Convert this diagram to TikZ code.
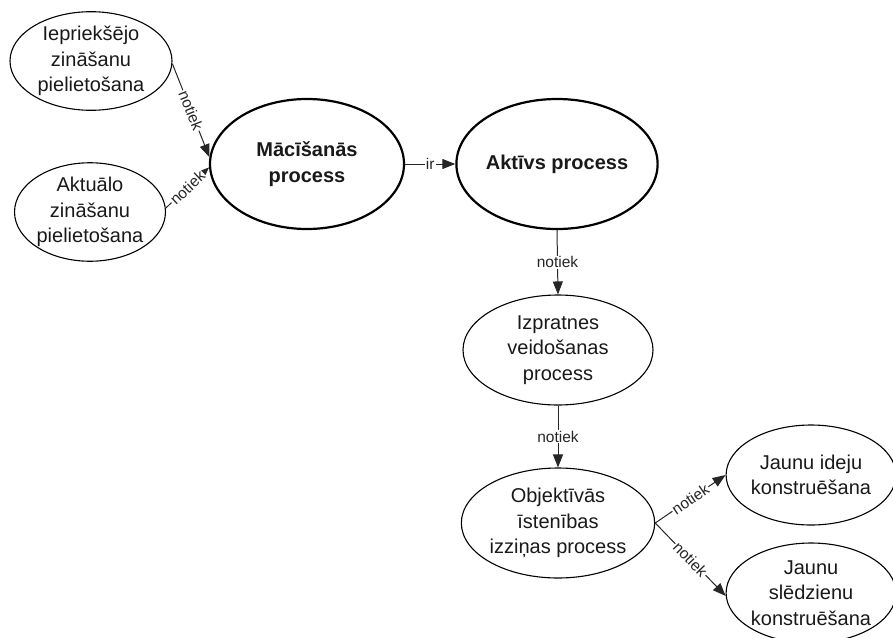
\documentclass[tikz,border=0pt]{standalone}
\usepackage{fontspec}
\setmainfont{Liberation Sans}
\usetikzlibrary{shapes.geometric,arrows.meta}
\tikzset{
  concept/.style={draw=black, ellipse, line width=1.1pt, inner sep=0pt, align=center,
    font=\fontsize{20}{25.5}\selectfont, text=black!90},
  mainconcept/.style={concept, line width=2.2pt, font=\fontsize{20}{25.5}\selectfont\bfseries},
  link/.style={draw=black!85, line width=1pt, -{Triangle[length=13pt,width=10pt]}},
  lbl/.style={fill=white, inner sep=1pt, font=\fontsize{15.5}{18}\selectfont, text=black!85, midway}
}
\begin{document}
\begin{tikzpicture}[x=1pt,y=-1pt]
\useasboundingbox (0,0) rectangle (893,637);
\node[concept, minimum width=162pt, minimum height=94pt] (e1) at (91,61) {Iepriekšējo\\zināšanu\\pielietošana};
\node[concept, minimum width=150pt, minimum height=94pt] (e2) at (90,212) {Aktuālo\\zināšanu\\pielietošana};
\node[mainconcept, minimum width=194pt, minimum height=130pt] (mac) at (307,164) {Mācīšanās\\process};
\node[mainconcept, minimum width=195pt, minimum height=130pt] (akt) at (557,164) {Aktīvs process};
\node[concept, minimum width=190pt, minimum height=110pt] (izp) at (558,350) {Izpratnes\\veidošanas\\process};
\node[concept, minimum width=190pt, minimum height=110pt] (obj) at (558,523) {Objektīvās\\īstenības\\izziņas process};
\node[concept, minimum width=166pt, minimum height=100pt] (jid) at (811,475) {Jaunu ideju\\konstruēšana};
\node[concept, minimum width=166pt, minimum height=100pt] (jsl) at (811,593) {Jaunu\\slēdzienu\\konstruēšana};

\draw[link] (e1.-2) -- node[lbl, sloped] {notiek} (mac.176);
\draw[link] (e2.3) -- node[lbl, sloped] {notiek} (mac.182);
\draw[link] (mac.east) -- node[lbl] {ir} (akt.west);
\draw[link] (akt.south) -- node[lbl] {notiek} (izp.north);
\draw[link] (izp.south) -- node[lbl] {notiek} (obj.north);
\draw[link] (obj.east) -- node[lbl, sloped] {notiek} (jid.west);
\draw[link] (obj.east) -- node[lbl, sloped] {notiek} (jsl.182);
\end{tikzpicture}
\end{document}
